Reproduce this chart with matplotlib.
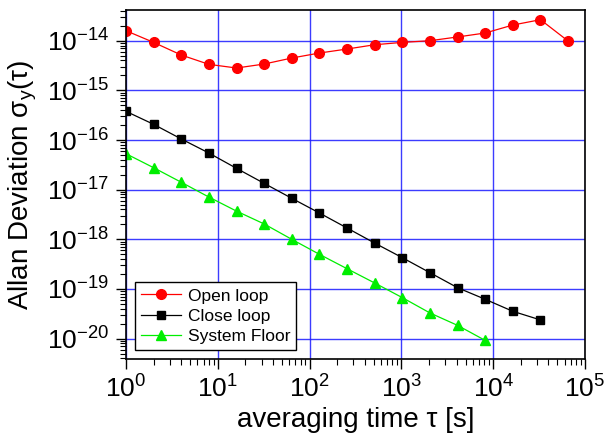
import numpy as np
import matplotlib
matplotlib.use("Agg")
import matplotlib.pyplot as plt
from matplotlib.ticker import LogLocator, NullFormatter

plt.rcParams['font.family'] = ['Liberation Sans', 'DejaVu Sans']
plt.rcParams['mathtext.default'] = 'regular'
plt.rcParams['axes.unicode_minus'] = False

# averaging times (s)
tau_open = [1, 2, 4, 8, 16, 32, 64, 128, 256, 512, 1024, 2048, 4096, 8192, 16384, 32768, 65536]
tau_close = [1, 2, 4, 8, 16, 32, 64, 128, 256, 512, 1024, 2048, 4096, 8192, 16384, 32768]
tau_floor = [1, 2, 4, 8, 16, 32, 64, 128, 256, 512, 1024, 2048, 4096, 8192]

open_loop = [1.59e-14, 9.25e-15, 5.15e-15, 3.34e-15, 2.82e-15, 3.39e-15, 4.48e-15, 5.65e-15,
             6.8e-15, 8.3e-15, 9.25e-15, 1.0e-14, 1.19e-14, 1.43e-14, 2.07e-14, 2.65e-14, 9.85e-15]
close_loop = [3.78e-16, 2.07e-16, 1.05e-16, 5.47e-17, 2.69e-17, 1.34e-17, 6.7e-18, 3.39e-18,
              1.69e-18, 8.4e-19, 4.27e-19, 2.13e-19, 1.06e-19, 6.2e-20, 3.55e-20, 2.38e-20]
system_floor = [5.3e-17, 2.77e-17, 1.41e-17, 7.1e-18, 3.7e-18, 2.04e-18, 1.0e-18, 4.99e-19,
                2.56e-19, 1.32e-19, 6.7e-20, 3.29e-20, 1.85e-20, 9.2e-21]

fig = plt.figure(figsize=(6.06, 4.36), dpi=100)
ax = fig.add_axes([0.2079, 0.1766, 0.7574, 0.7995])

ax.plot(tau_open, open_loop, color="#ff0000", lw=0.9, marker="o", ms=7, label="Open loop")
ax.plot(tau_close, close_loop, color="black", lw=0.9, marker="s", ms=6, label="Close loop")
ax.plot(tau_floor, system_floor, color="#00ee00", lw=0.9, marker="^", ms=7, label="System Floor")

ax.set_xscale("log")
ax.set_yscale("log")
ax.set_xlim(1, 1e5)
ax.set_ylim(10 ** -20.41, 10 ** -13.39)

ax.xaxis.set_major_locator(LogLocator(base=10, numticks=20))
ax.yaxis.set_major_locator(LogLocator(base=10, numticks=20))
ax.xaxis.set_minor_locator(LogLocator(base=10, subs=np.arange(2, 10), numticks=100))
ax.yaxis.set_minor_locator(LogLocator(base=10, subs=np.arange(2, 10), numticks=100))
ax.xaxis.set_minor_formatter(NullFormatter())
ax.yaxis.set_minor_formatter(NullFormatter())

ax.tick_params(which="major", direction="out", length=7, width=1, labelsize=19, pad=5)
ax.tick_params(which="minor", direction="out", length=4, width=0.8)
ax.tick_params(top=False, right=False)

ax.grid(which="major", color="#1a1aff", linewidth=1.0, alpha=0.85)
ax.set_axisbelow(True)
for s in ax.spines.values():
    s.set_linewidth(1.2)

ax.set_xlabel("averaging time τ [s]", fontsize=20, labelpad=3)
ax.set_ylabel("Allan Deviation σ$_{y}$(τ)", fontsize=20, labelpad=6)

leg = ax.legend(loc="lower left", bbox_to_anchor=(0.0, 0.0), fontsize=12.5, fancybox=False,
                edgecolor="black", framealpha=1, handlelength=2.3, borderpad=0.35,
                labelspacing=0.3, handletextpad=0.4, borderaxespad=0.5)
leg.get_frame().set_linewidth(1.0)

fig.savefig("out.png", dpi=100)
